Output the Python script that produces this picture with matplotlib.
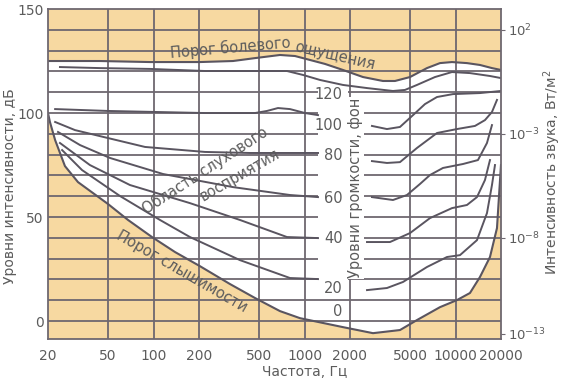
import matplotlib.pyplot as plt
from matplotlib.patches import Rectangle

# оси
freq_ticks = [20, 50, 100, 200, 500, 1000, 2000, 5000, 10000, 20000]
db_ticks = [0, 50, 100, 150]
intensity_pos = [140, 90, 40, -6]
intensity_labels = ['10$^{2}$', '10$^{-3}$', '10$^{-8}$', '10$^{-13}$']

# порог болевого ощущения
pain_f = [20, 44, 95, 203, 336, 470, 688, 865, 1087, 1366, 1797, 2439, 3307,
          3972, 4995, 6470, 7890, 9475, 11906, 14520, 17436, 20000]
pain_db = [125.0, 125.0, 124.5, 124.5, 125.0, 126.4, 127.9, 127.4, 125.5, 123.6,
           120.7, 117.3, 115.4, 115.4, 117.3, 121.6, 124.0, 124.5, 124.0, 123.1,
           121.6, 120.7]

# порог слышимости
thr_f = [20, 20.6, 22.3, 25.9, 31.6, 49.9, 67.8, 97.7, 138.7, 203, 321, 470,
         688, 934, 1797, 2840, 4287, 5555, 7890, 10223, 12463, 14520, 16914,
         18819, 20000]
thr_db = [100.0, 95.7, 87.0, 74.5, 66.8, 56.3, 48.6, 40.4, 33.2, 26.4, 17.8,
          11.1, 4.8, 1.4, -2.9, -5.8, -4.3, 0.5, 6.7, 10.1, 13.5, 21.2, 30.8,
          44.7, 75.0]

# кривые равной громкости (левая и правая части)
ph120_f = [24, 44, 95, 219, 435, 765, 977, 1266, 1797, 2593, 3853, 4627, 5555,
           7310, 9475, 12463, 16914, 20000]
ph120_db = [122.1, 121.6, 121.2, 120.2, 120.2, 120.2, 118.3, 115.9, 113.5, 112.0,
            110.6, 111.1, 113.5, 117.3, 119.7, 119.2, 117.8, 116.8]

ph100l_f = [22.3, 49.9, 219, 470, 564, 667, 801, 1007, 1228]
ph100l_db = [101.9, 101.0, 100.0, 100.0, 101.0, 102.4, 101.9, 100.0, 99.0]
ph100r_f = [2797, 3515, 4287, 5230, 6276, 7539, 9620, 14520, 20000]
ph100r_db = [93.8, 92.3, 93.3, 99.0, 104.3, 107.7, 109.1, 109.6, 110.6]

ph80l_f = [22.3, 30.2, 44.2, 87.8, 219, 435, 1228]
ph80l_db = [95.7, 91.8, 88.9, 83.7, 81.3, 80.8, 80.8]
ph80r_f = [2797, 3515, 4287, 5555, 7539, 10223, 13454, 15669, 17436, 18819]
ph80r_db = [76.9, 76.0, 76.4, 83.2, 90.4, 92.3, 93.8, 96.6, 100.5, 106.3]

ph60l_f = [23.3, 32.6, 51.5, 115.5, 336, 801, 1228]
ph60l_db = [90.9, 84.6, 78.4, 70.7, 64.4, 60.6, 59.6]
ph60r_f = [2797, 3853, 4770, 5816, 6774, 8260, 11203, 14083, 16156, 17436]
ph60r_db = [59.6, 58.2, 60.6, 65.9, 70.2, 73.6, 75.5, 77.4, 85.6, 94.2]

ph40l_f = [24.0, 37.9, 69.8, 174.3, 373.8, 765, 1228]
ph40l_db = [85.6, 75.0, 65.4, 56.7, 48.6, 40.4, 39.9]
ph40r_f = [2593, 3681, 4995, 6774, 9475, 11906, 13871, 15669, 16914]
ph40r_db = [38.0, 38.0, 42.3, 49.5, 54.3, 55.8, 59.6, 67.8, 77.4]

ph20l_f = [24.8, 33.6, 60.0, 110.4, 174.3, 373.8, 801, 1228]
ph20l_db = [82.2, 72.6, 60.1, 48.6, 40.4, 29.3, 20.7, 20.2]
ph20r_f = [2593, 3515, 4489, 6470, 8779, 10703, 13871, 16156, 17436, 18255]
ph20r_db = [14.9, 15.9, 18.8, 26.0, 30.8, 31.7, 38.9, 51.9, 65.4, 75.0]

phon_labels = ['120', '100', '80', '60', '40', '20', '0']
phon_label_db = [108.7, 94.2, 79.8, 59.1, 39.9, 15.9, 4.5]

yellow = '#F7D9A1'
grid_c = '#6E6870'
line_c = '#5A5560'
text_c = '#5c5c5c'

fig = plt.figure(figsize=(5.62, 3.83), dpi=100)
ax = fig.add_axes([0.0854, 0.1149, 0.806, 0.8616])
ax.set_xscale('log')
ax.set_xlim(20, 20000)
ax.set_ylim(-8.6, 150)
ax.set_facecolor(yellow)

# область слухового восприятия
ax.fill(pain_f + thr_f[::-1], pain_db + thr_db[::-1], color='white', lw=0, zorder=0.5)

for y in range(0, 150, 10):
    ax.axhline(y, color=grid_c, lw=1.3, zorder=1)
for f in freq_ticks[1:-1]:
    ax.axvline(f, color=grid_c, lw=1.3, zorder=1.6)

# колонка с подписями уровней громкости
ax.add_patch(Rectangle((1228, 13), 1950 - 1228, 103, facecolor='white',
                       edgecolor='none', zorder=1.5))

ax.plot(pain_f, pain_db, color=line_c, lw=1.5, zorder=2)
ax.plot(thr_f, thr_db, color=line_c, lw=1.5, zorder=2)
for fs, ds in [(ph120_f, ph120_db), (ph100l_f, ph100l_db), (ph100r_f, ph100r_db),
               (ph80l_f, ph80l_db), (ph80r_f, ph80r_db), (ph60l_f, ph60l_db),
               (ph60r_f, ph60r_db), (ph40l_f, ph40l_db), (ph40r_f, ph40r_db),
               (ph20l_f, ph20l_db), (ph20r_f, ph20r_db)]:
    ax.plot(fs, ds, color=line_c, lw=1.4, zorder=2)

for lab, y in zip(phon_labels, phon_label_db):
    ax.text(1790, y, lab, ha='right', va='center', fontsize=10.5, color=text_c, zorder=3)

ax.text(2190, 64, 'Уровни громкости, фон', rotation=90, ha='center', va='center',
        fontsize=10.5, color=text_c, zorder=3,
        bbox=dict(facecolor='white', edgecolor='none', pad=0.5))

ax.text(321, 131.5, 'Порог болевого', rotation=5, ha='center', va='center',
        rotation_mode='anchor', fontsize=10.5, color=text_c, zorder=3)
ax.text(1600, 127.6, 'ощущения', rotation=-13, ha='center', va='center',
        rotation_mode='anchor', fontsize=10.5, color=text_c, zorder=3)
ax.text(219, 72.6, 'Область слухового', rotation=33, ha='center', va='center',
        rotation_mode='anchor', fontsize=10.5, color=text_c, zorder=3)
ax.text(374, 70.2, 'восприятия', rotation=30, ha='center', va='center',
        rotation_mode='anchor', fontsize=10.5, color=text_c, zorder=3)
ax.text(154, 23.6, 'Порог слышимости', rotation=-30, ha='center', va='center',
        rotation_mode='anchor', fontsize=10.5, color=text_c, zorder=3)

ax.set_xticks(freq_ticks)
ax.set_xticklabels([str(f) for f in freq_ticks])
ax.minorticks_off()
ax.set_yticks(db_ticks)
ax.tick_params(axis='both', length=0, labelsize=10, labelcolor=text_c)
ax.tick_params(axis='x', pad=7)
ax.tick_params(axis='y', pad=3)
for s in ax.spines.values():
    s.set_color(grid_c)
    s.set_linewidth(1.3)

ax2 = ax.twinx()
ax2.set_ylim(-8.6, 150)
ax2.set_yticks(intensity_pos)
ax2.set_yticklabels(intensity_labels)
ax2.tick_params(axis='y', length=3, color=grid_c, labelsize=9.5, labelcolor=text_c, pad=2)
for s in ax2.spines.values():
    s.set_visible(False)

fig.text(305 / 562, 1 - 372 / 383, 'Частота, Гц', ha='center', va='center',
         fontsize=10, color=text_c)
fig.text(10 / 562, 1 - 186 / 383, 'Уровни интенсивности, дБ', rotation=90,
         ha='center', va='center', fontsize=10, color=text_c)
fig.text(552 / 562, 1 - 172 / 383, 'Интенсивность звука, Вт/м$^{2}$', rotation=90,
         ha='center', va='center', fontsize=10, color=text_c)

fig.savefig('out.png', dpi=100)
